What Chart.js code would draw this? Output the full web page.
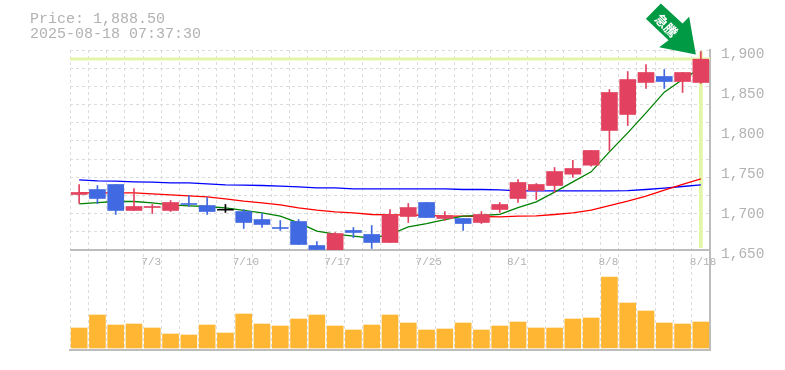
<!DOCTYPE html>
<html><head><meta charset="utf-8">
<style>html,body{margin:0;padding:0;background:#fff}canvas{display:block}</style>
<script src="https://cdn.jsdelivr.net/npm/chart.js@4"></script>
</head><body><canvas id="c" width="785" height="370"></canvas>
<script>
const categories=['6/27','6/30','7/1','7/2','7/3','7/4','7/7','7/8','7/9','7/10','7/11','7/14','7/15','7/16','7/17','7/18','7/22','7/23','7/24','7/25','7/28','7/29','7/30','7/31','8/1','8/4','8/5','8/6','8/7','8/8','8/12','8/13','8/14','8/15','8/18'];
const shownDates=['7/3','7/10','7/17','7/25','8/1','8/8','8/18'];
const priceLabels=[1650,1700,1750,1800,1850,1900];
const bodyTop=[1721.9,1725.6,1731.9,1704.4,1704.4,1709.4,1708.1,1705.6,1701,1698.1,1688.1,1678.1,1685.6,1655.6,1670.6,1674.4,1669.4,1693.9,1703.1,1709.4,1693.1,1689.4,1694.4,1706.9,1734.4,1731.9,1748.1,1751.9,1774.4,1846.9,1863.1,1871.9,1866.9,1871.9,1888.5];
const bodyBottom=[1719.4,1714.4,1699.4,1699.4,1703.1,1699.4,1706.9,1698.1,1699.8,1684.4,1681.9,1676.9,1656.9,1650.6,1648.1,1671.9,1659.4,1659.4,1691.9,1690.6,1689.4,1683.1,1684.4,1700.6,1714.4,1724.4,1730.6,1744.8,1756,1799.4,1819.4,1859.4,1860.6,1860.6,1859.4];
const high=[1731.9,1730.6,1731.9,1726.9,1706.9,1711.9,1718.1,1715.6,1706.9,1700.6,1695.6,1686.9,1688.1,1660.6,1671.9,1678.1,1680.6,1700.6,1708.1,1709.4,1698.1,1689.4,1698.1,1709.4,1738.1,1733.1,1753.1,1762,1774.4,1850.6,1873.1,1881.9,1875.6,1871.9,1898.1];
const low=[1708.1,1708.1,1694.4,1699.4,1695.6,1698.1,1704.4,1694.4,1696.9,1676.9,1678.1,1674.4,1656.9,1649.4,1648.1,1665.6,1651.9,1659.4,1684.4,1690.6,1686.9,1674.4,1683.1,1696.9,1709.4,1713.1,1722.3,1740.6,1754.8,1774.4,1805.6,1851.9,1851.9,1846.9,1858.1];
const direction=['u','d','d','u','u','u','d','d','f','d','d','d','d','d','u','d','d','u','u','d','u','d','u','u','u','u','u','u','u','u','u','u','d','u','u'];
const maShort=[1707.7,1709.3,1710.6,1710.6,1708.9,1706.4,1705.2,1704.4,1702.7,1699.4,1696.4,1692.3,1683.9,1673.5,1669.8,1667.3,1664.8,1669.4,1678.9,1683.1,1688.1,1692.3,1693.1,1694.4,1703.1,1710.2,1722.3,1735.2,1747.7,1772.7,1796.4,1821.4,1847.3,1863.1,1877.7];
const maMid=[1721.4,1721.4,1721.4,1721.4,1720.2,1718.9,1717.7,1716.4,1713.9,1711,1708.9,1706.4,1702.7,1699.8,1697.7,1696.4,1694.4,1693.9,1693.9,1693.1,1692.3,1692.3,1691.9,1691.4,1692.3,1692.7,1694.4,1696.4,1699.8,1705.6,1711,1717.3,1724.8,1731.9,1738.9];
const maLong=[1737.7,1736.4,1736,1735.2,1734.8,1733.9,1733.9,1732.7,1731.4,1731,1730.6,1729.8,1728.9,1727.7,1727.7,1726.4,1726.4,1726.4,1726.4,1726.4,1726.4,1725.6,1725.6,1725.2,1723.9,1723.9,1723.9,1723.9,1723.9,1723.9,1724.3,1725.6,1727.3,1729.4,1731.4];
const volume=[20,33,23,24,20,14,13,23,15,34,24,22,29,33,22,18,23,33,25,18,19,25,18,22,26,20,20,29,30,71,45,37,25,24,26];
const lastPrice=1888.5;
const lastMarker=[1653,1898];
const titleLines=['Price: 1,888.50','2025-08-18 07:37:30'];
const badge='急騰';

const RED='#E2425F',BLUE='#4169E1',GRID='#dcdcdc',AXIS='#bdbdbd',TXT='#b2b2b2',ORANGE='#FFB733',LIME='#E3F5A6';
const colorOf=d=>d==='u'?RED:d==='d'?BLUE:'#000';
const candleColors=direction.map(colorOf);
const gridStep=250/11;
const gridValues=Array.from({length:12},(_,i)=>1650+i*gridStep);

const overlay={id:'overlay',
 beforeDatasetsDraw(c){
  const {ctx,chartArea:a,scales:{y}}=c;
  ctx.save();ctx.strokeStyle=LIME;ctx.lineWidth=3;ctx.beginPath();
  const p=Math.round(y.getPixelForValue(lastPrice));
  ctx.moveTo(a.left,p);ctx.lineTo(a.right,p);ctx.stroke();ctx.restore();
 },
 afterDraw(c){
  const {ctx,scales:{x,y}}=c;
  ctx.save();
  ctx.fillStyle=TXT;ctx.font='15px "Liberation Mono"';ctx.textBaseline='alphabetic';
  ctx.fillText(titleLines[0],30,23);ctx.fillText(titleLines[1],30,38);
  const tx=x.getPixelForValue(categories.length-1)-5,ty=y.getPixelForValue(1900)+4.5;
  const off=[[0,0],[-6.7,-37.7],[-13.3,-31],[-35,-51],[-50,-35.7],[-27.3,-14.3],[-36.7,-7.3]];
  ctx.fillStyle='#009944';ctx.beginPath();
  off.forEach((o,i)=>i?ctx.lineTo(tx+o[0],ty+o[1]):ctx.moveTo(tx+o[0],ty+o[1]));
  ctx.closePath();ctx.fill();
  ctx.translate(tx-29.5,ty-29);ctx.rotate(Math.PI/4);
  ctx.fillStyle='#fff';ctx.font='bold 13px "Noto Sans CJK JP"';ctx.textAlign='center';ctx.textBaseline='middle';
  ctx.fillText(badge,0,0);
  ctx.restore();
 }};

new Chart(document.getElementById('c'),{
 type:'bar',
 plugins:[overlay],
 data:{labels:categories,datasets:[
  {type:'bar',label:'Body',data:bodyTop.map((t,i)=>[bodyBottom[i],t]),backgroundColor:candleColors,barThickness:16,grouped:false,order:1,yAxisID:'y'},
  {type:'bar',label:'Wick',data:high.map((h,i)=>[low[i],h]),backgroundColor:candleColors,barThickness:1,grouped:false,order:2,yAxisID:'y'},
  {type:'line',label:'MA short',data:maShort,borderColor:'#008000',borderWidth:1.3,pointRadius:0,tension:0,order:3,yAxisID:'y'},
  {type:'line',label:'MA mid',data:maMid,borderColor:'#ff0000',borderWidth:1.3,pointRadius:0,tension:0,order:4,yAxisID:'y'},
  {type:'line',label:'MA long',data:maLong,borderColor:'#0000ff',borderWidth:1.3,pointRadius:0,tension:0,order:5,yAxisID:'y'},
  {type:'bar',label:'Marker',data:categories.map((_,i)=>i===categories.length-1?lastMarker:null),backgroundColor:LIME,barThickness:3,grouped:false,order:6,yAxisID:'y'},
  {type:'bar',label:'Volume',data:volume,backgroundColor:ORANGE,barThickness:16,grouped:false,order:7,yAxisID:'yv'}
 ]},
 options:{responsive:false,animation:false,
  layout:{padding:{left:70,right:0,top:50,bottom:20}},
  plugins:{legend:{display:false},tooltip:{enabled:false},title:{display:false}},
  scales:{
   x:{type:'category',position:'bottom',offset:true,
    afterFit(s){s.height=0;s.paddingLeft=0;s.paddingRight=0;},
    grid:{offset:true,color:GRID,lineWidth:1,drawTicks:false},
    border:{display:true,color:AXIS,width:2,dash:[3,3]},
    ticks:{autoSkip:false,maxRotation:0,minRotation:0,align:'start',mirror:true,labelOffset:-11,padding:81,color:TXT,
     font:{family:'"Liberation Mono"',size:11},
     callback(v){const l=this.getLabelForValue(v);return shownDates.includes(l)?l:'';}}
   },
   y:{type:'linear',position:'right',stack:'p',stackWeight:2,weight:1,min:1650,max:1900,
    afterFit(s){s.width=75;s.paddingTop=0;s.paddingBottom=0;},
    afterBuildTicks(s){s.ticks=[...gridValues,...priceLabels.filter(v=>!(v===1650||v===1900))].sort((a,b)=>a-b).map(v=>({value:v}));},
    grid:{drawTicks:false,lineWidth:1,color(ctx){const v=ctx.tick?ctx.tick.value:0;return gridValues.some(g=>Math.abs(g-v)<1e-6)?GRID:'rgba(0,0,0,0)';}},
    border:{display:true,color:AXIS,width:2,dash:[3,3]},
    ticks:{autoSkip:false,padding:11,labelOffset:4.5,color:TXT,font:{family:'"Liberation Mono"',size:14.5},
     callback(v){return priceLabels.includes(v)?v.toLocaleString('en-US'):'';}}
   },
   yv:{type:'linear',position:'right',stack:'p',stackWeight:1,weight:2,min:-2,max:98,
    afterFit(s){s.width=75;},
    afterBuildTicks(s){s.ticks=[{value:98}];},
    grid:{drawTicks:false,color:AXIS,lineWidth:2},
    border:{display:true,color:AXIS,width:2,dash:[]},
    ticks:{display:false}
   }
  }
 }
});
</script></body></html>
